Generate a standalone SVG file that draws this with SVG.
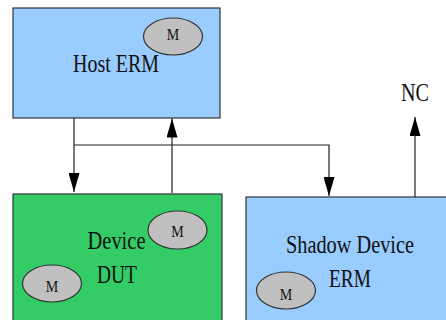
<svg xmlns="http://www.w3.org/2000/svg" width="446" height="320" viewBox="0 0 446 320">
  <style>
    .box { stroke: #333; stroke-width: 1.2; }
    .blue { fill: #99CCFF; }
    .green { fill: #33CC66; }
    .mod { fill: #C0C0C0; stroke: #333; stroke-width: 1.2; }
    .lbl { font-family: "Liberation Serif", "Times New Roman", serif; font-size: 25px; fill: #111; text-anchor: middle; }
    .m { font-family: "Liberation Serif", "Times New Roman", serif; font-size: 17px; fill: #111; text-anchor: middle; }
    .wire { fill: none; stroke: #222; stroke-width: 1.2; }
  </style>
  <defs>
    <marker id="arrow" markerUnits="userSpaceOnUse" markerWidth="20" markerHeight="11" refX="19" refY="5.5" orient="auto">
      <path d="M0,0 L19,5.5 L0,11 z" fill="#000"/>
    </marker>
  </defs>

  <g id="host-erm">
    <rect class="box blue" x="13" y="8" width="207" height="110"/>
    <text class="lbl" x="116" y="72" textLength="86" lengthAdjust="spacingAndGlyphs">Host ERM</text>
    <ellipse class="mod" cx="173" cy="36.5" rx="29.5" ry="18.5"/>
    <text class="m" x="173" y="40" textLength="12.5" lengthAdjust="spacingAndGlyphs">M</text>
  </g>

  <g id="device-dut">
    <rect class="box green" x="13" y="194" width="209" height="140"/>
    <text class="lbl" x="116.5" y="249" textLength="58" lengthAdjust="spacingAndGlyphs">Device</text>
    <text class="lbl" x="117" y="283" textLength="40" lengthAdjust="spacingAndGlyphs">DUT</text>
    <ellipse class="mod" cx="177.5" cy="230" rx="29.5" ry="19"/>
    <text class="m" x="177.5" y="236.5" textLength="12.5" lengthAdjust="spacingAndGlyphs">M</text>
    <ellipse class="mod" cx="52" cy="283.5" rx="29.5" ry="18.5"/>
    <text class="m" x="52" y="292" textLength="12.5" lengthAdjust="spacingAndGlyphs">M</text>
  </g>

  <g id="shadow-device-erm">
    <rect class="box blue" x="246" y="197" width="210" height="140"/>
    <text class="lbl" x="350" y="253" textLength="128" lengthAdjust="spacingAndGlyphs">Shadow Device</text>
    <text class="lbl" x="350" y="287" textLength="42" lengthAdjust="spacingAndGlyphs">ERM</text>
    <ellipse class="mod" cx="286" cy="290.5" rx="29.5" ry="18.5"/>
    <text class="m" x="286" y="299.5" textLength="12.5" lengthAdjust="spacingAndGlyphs">M</text>
  </g>

  <g id="nc">
    <text class="lbl" x="415" y="101" textLength="28" lengthAdjust="spacingAndGlyphs">NC</text>
  </g>

  <g id="connectors">
    <path class="wire" d="M74,118 V192" marker-end="url(#arrow)"/>
    <path class="wire" d="M74,145 H329 V196" marker-end="url(#arrow)"/>
    <path class="wire" d="M172,193 V118.5" marker-end="url(#arrow)"/>
    <path class="wire" d="M415,197 V117" marker-end="url(#arrow)"/>
  </g>
</svg>
